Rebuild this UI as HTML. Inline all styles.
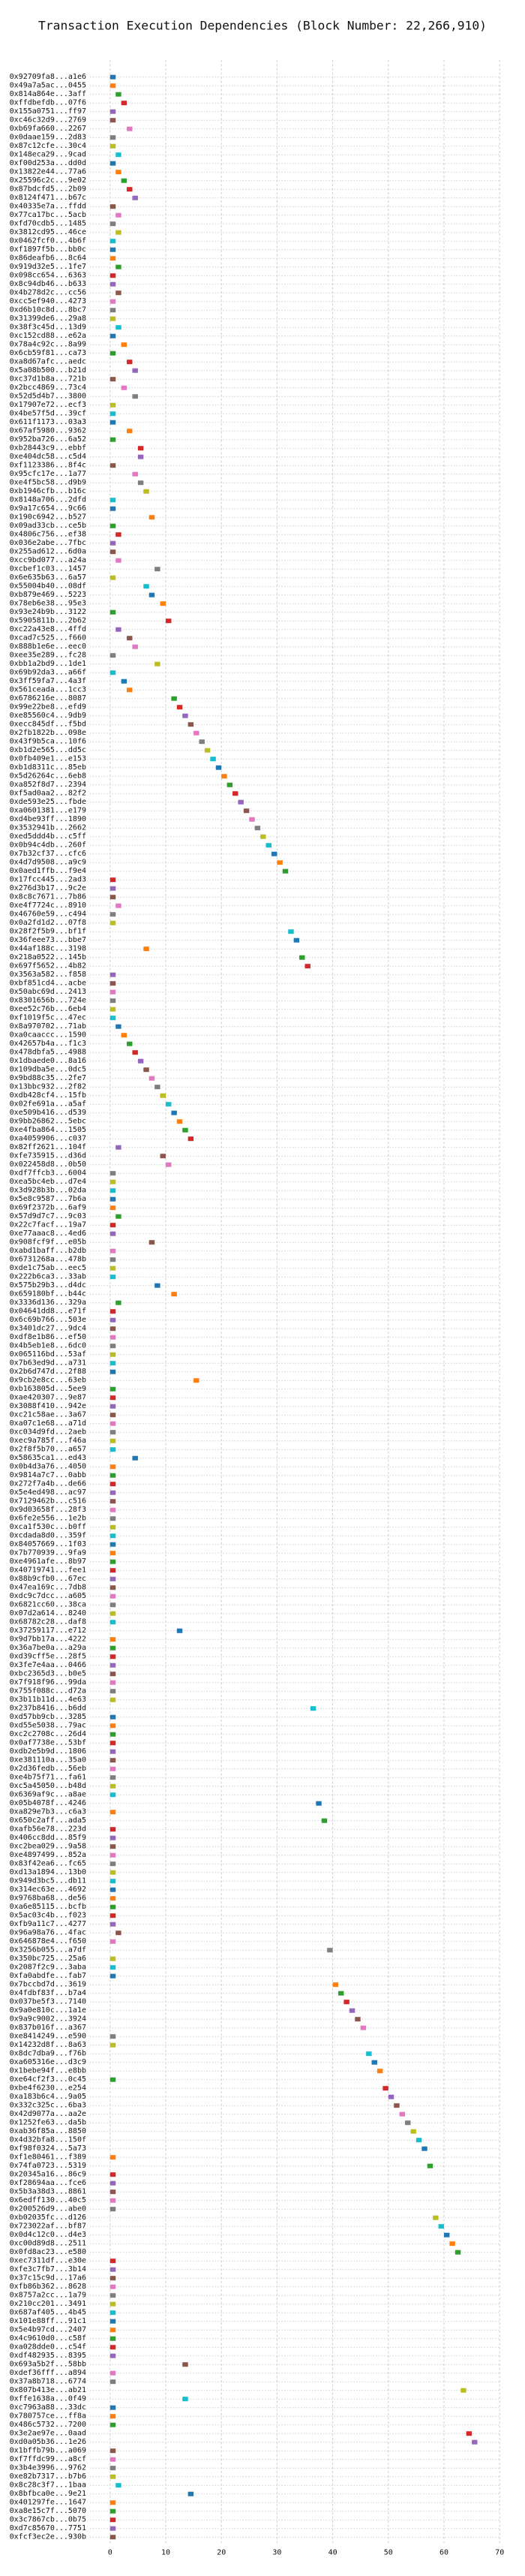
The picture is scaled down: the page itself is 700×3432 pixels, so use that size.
<!DOCTYPE html>
<html><head><meta charset="utf-8"><style>
html,body{margin:0;padding:0;background:#fff;}
svg{display:block;}
text{font-family:"DejaVu Sans Mono","Liberation Mono",monospace;fill:#111;}
</style></head><body>
<svg id="chart" width="700" height="3432" viewBox="0 0 700 3432" xmlns="http://www.w3.org/2000/svg">
<rect width="700" height="3432" fill="#fff"/>
<text x="350" y="34" text-anchor="middle" dominant-baseline="central" font-size="16.3">Transaction Execution Dependencies (Block Number: 22,266,910)</text>
<g id="grid"></g>
<g id="rows"></g>
<g id="xticks"></g>
</svg>
<script>
const txLabels = ["0x92709fa8...a1e6","0x49a7a5ac...0455","0x814a864e...3aff","0xffdbefdb...07f6","0x155a0751...ff97","0xc46c32d9...2769","0xb69fa660...2267","0x0daae159...2d83","0x87c12cfe...30c4","0x148eca29...9cad","0xf00d253a...dd0d","0x13822e44...77a6","0x25596c2c...9e02","0x87bdcfd5...2b09","0x8124f471...b67c","0x40335e7a...ffdd","0x77ca17bc...5acb","0xfd70cdb5...1485","0x3812cd95...46ce","0x0462fcf0...4b6f","0xf1897f5b...bb0c","0x86deafb6...8c64","0x919d32e5...1fe7","0x098cc654...6363","0x8c94db46...b633","0x4b278d2c...cc56","0xcc5ef940...4273","0xd6b10c8d...8bc7","0x31399de6...29a8","0x38f3c45d...13d9","0xc152cd88...e62a","0x78a4c92c...8a99","0x6cb59f81...ca73","0xa8d67afc...aedc","0x5a08b500...b21d","0xc37d1b8a...721b","0x2bcc4869...73c4","0x52d5d4b7...3800","0x17907e72...ecf3","0x4be57f5d...39cf","0x611f1173...03a3","0x67af5980...9362","0x952ba726...6a52","0xb28443c9...ebbf","0xe404dc58...c5d4","0xf1123386...8f4c","0x95cfc17e...1a77","0xe4f5bc58...d9b9","0xb1946cfb...b16c","0x8148a706...2dfd","0x9a17c654...9c66","0x190c6942...b527","0x09ad33cb...ce5b","0x4806c756...ef38","0x036e2abe...7fbc","0x255ad612...6d0a","0xcc9bd077...a24a","0xcbef1c03...1457","0x6e635b63...6a57","0x55004b40...08df","0xb879e469...5223","0x78eb6e38...95e3","0x93e24b9b...3122","0x5905811b...2b62","0xc22a43e8...4ffd","0xcad7c525...f660","0x888b1e6e...eec0","0xee35e289...fc28","0xbb1a2bd9...1de1","0x69b92da3...a66f","0x3ff59fa7...4a3f","0x561ceada...1cc3","0x6786216e...8087","0x99e22be8...efd9","0xe85560c4...9db9","0xecc845df...f5bd","0x2fb1822b...098e","0x43f9b5ca...10f6","0xb1d2e565...dd5c","0x0fb409e1...e153","0xb1d8311c...85eb","0x5d26264c...6eb8","0xa852f8d7...2394","0xf5ad0aa2...82f2","0xde593e25...fbde","0xa0601381...e179","0xd4be93ff...1890","0x3532941b...2662","0xed5ddd4b...c5ff","0x0b94c4db...260f","0x7b32cf37...cfc6","0x4d7d9508...a9c9","0x0aed1ffb...f9e4","0x17fcc445...2ad3","0x276d3b17...9c2e","0x8c8c7671...7b86","0xe4f7724c...8910","0x46760e59...c494","0x0a2fd1d2...07f8","0x28f2f5b9...bf1f","0x36feee73...bbe7","0x44af188c...3198","0x218a0522...145b","0x697f5652...4b82","0x3563a582...f858","0xbf851cd4...acbe","0x50abc69d...2413","0x8301656b...724e","0xee52c76b...6eb4","0xf1019f5c...47ec","0x8a970702...71ab","0xa0caaccc...1590","0x42657b4a...f1c3","0x478dbfa5...4988","0x1dbaede0...8a16","0x109dba5e...0dc5","0x9bd88c35...2fe7","0x13bbc932...2f82","0xdb428cf4...15fb","0x02fe691a...a5af","0xe509b416...d539","0x9bb26862...5ebc","0xe4fba864...1505","0xa4059906...c037","0x82ff2621...104f","0xfe735915...d36d","0x022458d8...0b50","0xdf7ffcb3...6004","0xea5bc4eb...d7e4","0x3d928b3b...02da","0x5e8c9587...7b6a","0x69f2372b...6af9","0x57d9d7c7...9c03","0x22c7facf...19a7","0xe77aaac8...4ed6","0x908fcf9f...e05b","0xabd1baff...b2db","0x6731268a...478b","0xde1c75ab...eec5","0x222b6ca3...33ab","0x575b29b3...d4dc","0x659180bf...b44c","0x3336d136...329a","0x04641dd8...e71f","0x6c69b766...503e","0x3401dc27...9dc4","0xdf8e1b86...ef50","0x4b5eb1e8...6dc0","0x065116bd...53af","0x7b63ed9d...a731","0x2b6d747d...2f88","0x9cb2e8cc...63eb","0xb163805d...5ee9","0xae420307...9e87","0x3088f410...942e","0xc21c58ae...3a67","0xa07c1e68...a71d","0xc034d9fd...2aeb","0xec9a785f...f46a","0x2f8f5b70...a657","0x58635ca1...ed43","0x0b4d3a76...4050","0x9814a7c7...0abb","0x272f7a4b...de66","0x5e4ed498...ac97","0x7129462b...c516","0x9d03658f...28f3","0x6fe2e556...1e2b","0xca1f530c...b0ff","0xcdada8d0...359f","0x84057669...1f03","0x7b770939...9fa9","0xe4961afe...8b97","0x40719741...fee1","0x88b9cfb0...67ec","0x47ea169c...7db8","0xdc9c7dcc...a605","0x6821cc60...38ca","0x07d2a614...8240","0x68782c28...daf8","0x37259117...e712","0x9d7bb17a...4222","0x36a7be0a...a29a","0xd39cff5e...28f5","0x3fe7e4aa...0466","0xbc2365d3...b0e5","0x7f918f96...99da","0x755f088c...d72a","0x3b11b11d...4e63","0x237b8416...b6dd","0xd57bb9cb...3285","0xd55e5038...79ac","0xc2c2708c...26d4","0x0af7738e...53bf","0xdb2e5b9d...1806","0xe381110a...35a0","0x2d36fedb...56eb","0xe4b75f71...fa61","0xc5a45050...b48d","0x6369af9c...a8ae","0x05b4078f...4246","0xa829e7b3...c6a3","0x650c2aff...ada5","0xafb56e78...223d","0x406cc8dd...85f9","0xc2bea029...9a58","0xe4897499...852a","0x83f42ea6...fc65","0xd13a1894...13b0","0x949d3bc5...db11","0x314ec63e...4692","0x9768ba68...de56","0xa6e85115...bcfb","0x5ac03c4b...f023","0xfb9a11c7...4277","0x96a98a76...4fac","0x646878e4...f650","0x3256b055...a7df","0x350bc725...25a6","0x2087f2c9...3aba","0xfa0abdfe...fab7","0x7bccbd7d...3619","0x4fdbf83f...b7a4","0x037be5f3...7140","0x9a0e810c...1a1e","0x9a9c9002...3924","0x837b016f...a367","0xe8414249...e590","0x14232d8f...8a63","0x8dc7dba9...f76b","0xa605316e...d3c9","0x1bebe94f...e8bb","0xe64cf2f3...0c45","0xbe4f6230...e254","0xa183b6c4...9a05","0x332c325c...6ba3","0x42d9077a...aa2e","0x1252fe63...da5b","0xab36f85a...8850","0x4d32bfa8...150f","0xf98f0324...5a73","0xf1e80461...f389","0x74fa0723...5319","0x20345a16...86c9","0xf28694aa...fce6","0x5b3a38d3...8861","0x6edff130...40c5","0x200526d9...abe0","0xb02035fc...d126","0x723022af...bf87","0x0d4c12c0...d4e3","0xc00d89d8...2511","0x0fd8ac23...e580","0xec7311df...e30e","0xfe3c7fb7...3b14","0x37c15c9d...17a6","0xfb86b362...8628","0x8757a2cc...1a79","0x210cc201...3491","0x687af405...4b45","0x101e88ff...91c1","0x5e4b97cd...2407","0x4c9610d0...c58f","0xa028dde0...c54f","0xdf482935...8395","0x693a5b2f...58bb","0xdef36fff...a894","0x37a8b718...6774","0x807b413e...ab21","0xffe1638a...0f49","0xc7963a88...33dc","0x780757ce...ff8a","0x486c5732...7200","0x3e2ae97e...0aad","0xd0a05b36...1e26","0x1bffb79b...a069","0xf7ffdc99...a8cf","0x3b4e3996...9762","0xe82b7317...b7b6","0x8c28c3f7...1baa","0x8bfbca0e...9e21","0x401297fe...1647","0xa8e15c7f...5070","0x3c7867cb...0b75","0xd7c85670...7751","0xfcf3ec2e...930b"];
const startTimes = [0,0,1,2,0,0,3,0,0,1,0,1,2,3,4,0,1,0,1,0,0,0,1,0,0,1,0,0,0,1,0,2,0,3,4,0,2,4,0,0,0,3,0,5,5,0,4,5,6,0,0,7,0,1,0,0,1,8,0,6,7,9,0,10,1,3,4,0,8,0,2,3,11,12,13,14,15,16,17,18,19,20,21,22,23,24,25,26,27,28,29,30,31,0,0,0,1,0,0,32,33,6,34,35,0,0,0,0,0,0,1,2,3,4,5,6,7,8,9,10,11,12,13,14,1,9,10,0,0,0,0,0,1,0,0,7,0,0,0,0,8,11,1,0,0,0,0,0,0,0,0,15,0,0,0,0,0,0,0,0,4,0,0,0,0,0,0,0,0,0,0,0,0,0,0,0,0,0,0,0,12,0,0,0,0,0,0,0,0,36,0,0,0,0,0,0,0,0,0,0,37,0,38,0,0,0,0,0,0,0,0,0,0,0,0,1,0,39,0,0,0,40,41,42,43,44,45,0,0,46,47,48,0,49,50,51,52,53,54,55,56,0,57,0,0,0,0,0,58,59,60,61,62,0,0,0,0,0,0,0,0,0,0,0,0,13,0,0,63,13,0,0,0,64,65,0,0,0,0,1,14,0,0,0,0,0];
const durations = startTimes.map(() => 1);
const xTickValues = [0,10,20,30,40,50,60,70];
const tab10 = ["#1f77b4","#ff7f0e","#2ca02c","#d62728","#9467bd","#8c564b","#e377c2","#7f7f7f","#bcbd22","#17becf"];

const NS = "http://www.w3.org/2000/svg";
const X0 = 146.8, XU = 7.42, Y0 = 102.7, YU = 11.5;
function xScale(v){ return X0 + v * XU; }
function yScale(i){ return Y0 + i * YU; }
function mk(tag, attrs, parent){ const e = document.createElementNS(NS, tag); for (const k in attrs) e.setAttribute(k, attrs[k]); parent.appendChild(e); return e; }

const grid = document.getElementById('grid');
const rows = document.getElementById('rows');
const ticks = document.getElementById('xticks');
const yTop = 80, yBot = yScale(startTimes.length - 1) + 8;

xTickValues.forEach(v => {
  const l = mk('line', {x1: xScale(v), x2: xScale(v), y1: yTop, y2: yBot, stroke: '#cfcfcf', 'stroke-width': 1, 'stroke-dasharray': '3,2.5'}, grid);
  
  
  const t = mk('text', {x: xScale(v), y: 3401, 'text-anchor': 'middle', 'dominant-baseline': 'central', 'font-size': 10}, ticks);
  t.textContent = String(v);
  
  
});

txLabels.forEach((lab, i) => {
  const y = yScale(i);
  const gl = mk('line', {x1: 120, x2: xScale(70), y1: y, y2: y, stroke: '#cfcfcf', 'stroke-width': 1, 'stroke-dasharray': '1.5,2.2'}, grid);
  
  
  const t = mk('text', {x: 115, y: y, 'text-anchor': 'end', 'dominant-baseline': 'central', 'font-size': 10}, rows);
  t.textContent = lab;
  
  
  const s = startTimes[i], d = durations[i];
  const r = mk('rect', {x: xScale(s), y: y - 3, width: xScale(s + d) - xScale(s), height: 6, fill: tab10[i % 10]}, rows);
  
  
});
</script>
</body></html>
